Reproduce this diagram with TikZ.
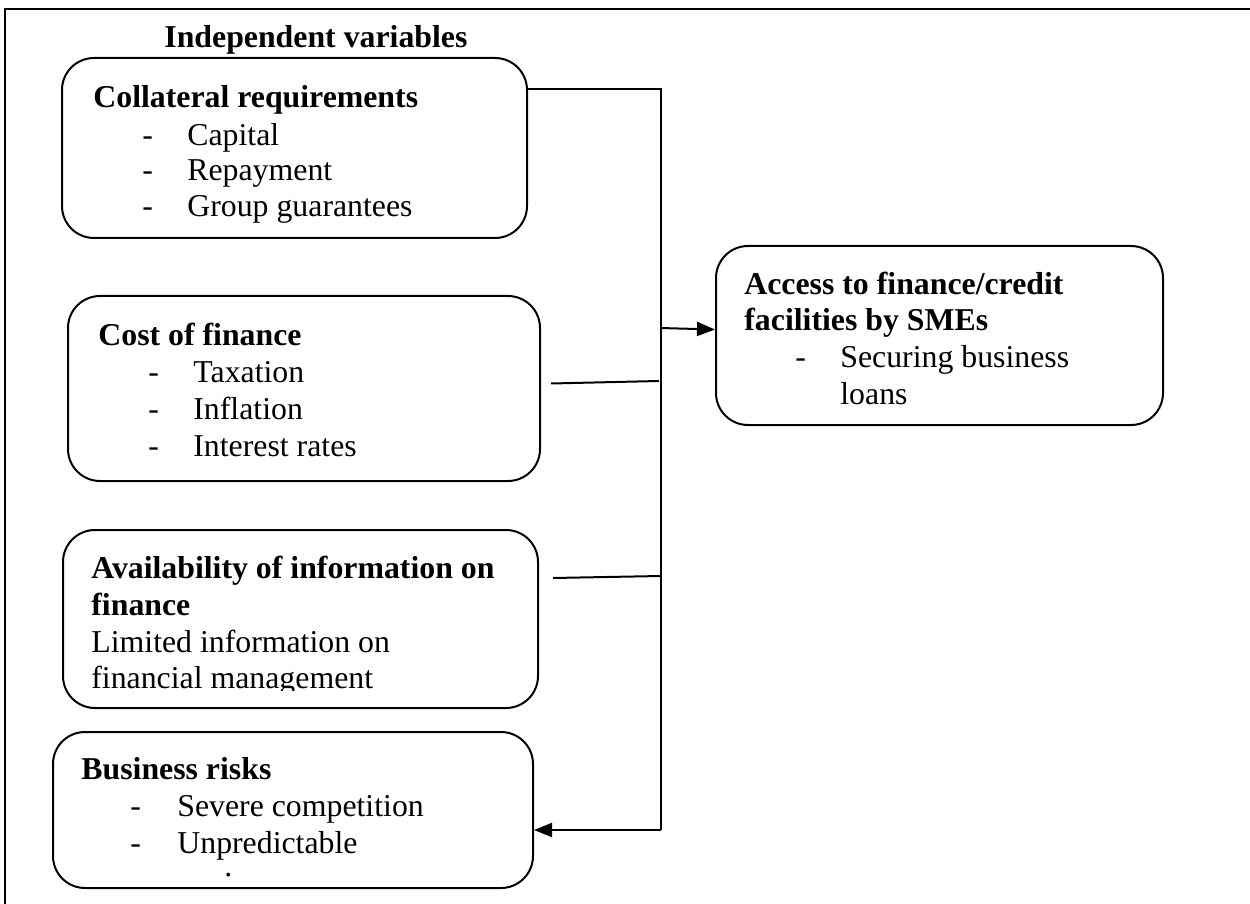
\documentclass[tikz,border=0pt]{standalone}
\usepackage{fontspec}
\setmainfont{Liberation Serif}
\usetikzlibrary{fit,arrows.meta}
\begin{document}
\begin{tikzpicture}[x=0.5pt,y=-0.5pt,
  box/.style={draw, line width=1pt, rounded corners=16pt, inner sep=0pt},
  txt/.style={anchor=base west, inner sep=0pt, font=\fontsize{15.9}{18}\selectfont},
  bold/.style={txt, font=\fontsize{15.9}{18}\selectfont\bfseries},
  conn/.style={line width=1pt},
  arr/.style={conn, -{Triangle[length=9pt,width=7pt]}}]
\useasboundingbox (0,0) rectangle (1250,904);
\draw[line width=1.3pt] (1260,9) -- (5,9) -- (5,914);

% boxes
\node[box, fit={(62,58) (527,238)}] (b1) {};
\node[box, fit={(68,296) (540,481)}] (b2) {};
\node[box, fit={(63,530) (538,708)}] (b3) {};
\node[box, fit={(53,732) (533,888)}] (b4) {};
\node[box, fit={(716,246) (1163,425)}] (b5) {};

% header
\node[bold] (h) at (164,48) {Independent variables};

% box 1
\node[bold] (t1) at (93,108) {Collateral requirements};
\node[txt] (d11) at (142,146) {-}; \node[txt] (i11) at (187,146) {Capital};
\node[txt] (d12) at (142,181) {-}; \node[txt] (i12) at (187,181) {Repayment};
\node[txt] (d13) at (142,217) {-}; \node[txt] (i13) at (187,217) {Group guarantees};

% box 2
\node[bold] (t2) at (98,345) {Cost of finance};
\node[txt] (d21) at (148,383) {-}; \node[txt] (i21) at (193,383) {Taxation};
\node[txt] (d22) at (148,419) {-}; \node[txt] (i22) at (193,419) {Inflation};
\node[txt] (d23) at (148,457) {-}; \node[txt] (i23) at (193,457) {Interest rates};

% box 3
\node[bold] (t3a) at (91,578) {Availability of information on};
\node[bold] (t3b) at (91,615) {finance};
\node[txt] (i31) at (91,652) {Limited information on};
\begin{scope}
\clip (0,0) rectangle (1250,690);
\node[txt] (i32) at (91,688) {financial management};
\end{scope}

% box 4
\node[bold] (t4) at (81,779) {Business risks};
\node[txt] (d41) at (130,816) {-}; \node[txt] (i41) at (177,816) {Severe competition};
\node[txt] (d42) at (130,853) {-}; \node[txt] (i42) at (177,853) {Unpredictable};
\node[txt] (dot) at (224,876) {.};

% box 5
\node[bold] (t5a) at (744,295) {Access to finance/credit};
\node[bold] (t5b) at (744,331) {facilities by SMEs};
\node[txt] (d51) at (795,368) {-}; \node[txt] (i51) at (840,368) {Securing business};
\node[txt] (i52) at (840,405) {loans};

% connectors
\coordinate (top) at (661,89);
\coordinate (bot) at (661,830);
\draw[conn] ([yshift=-16pt]b1.north east) -- (top) -- (bot);
\draw[arr] (bot) -- (b4.east |- bot);
\draw[conn] ([shift={(10,-5)}]b2.east) -- ([shift={(-2,292)}]top);
\draw[conn] ([shift={(14,-41)}]b3.east) -- ([shift={(0,487)}]top);
\draw[arr] ([shift={(-1,239)}]top) -- ([yshift=3pt]b5.west);
\end{tikzpicture}
\end{document}
